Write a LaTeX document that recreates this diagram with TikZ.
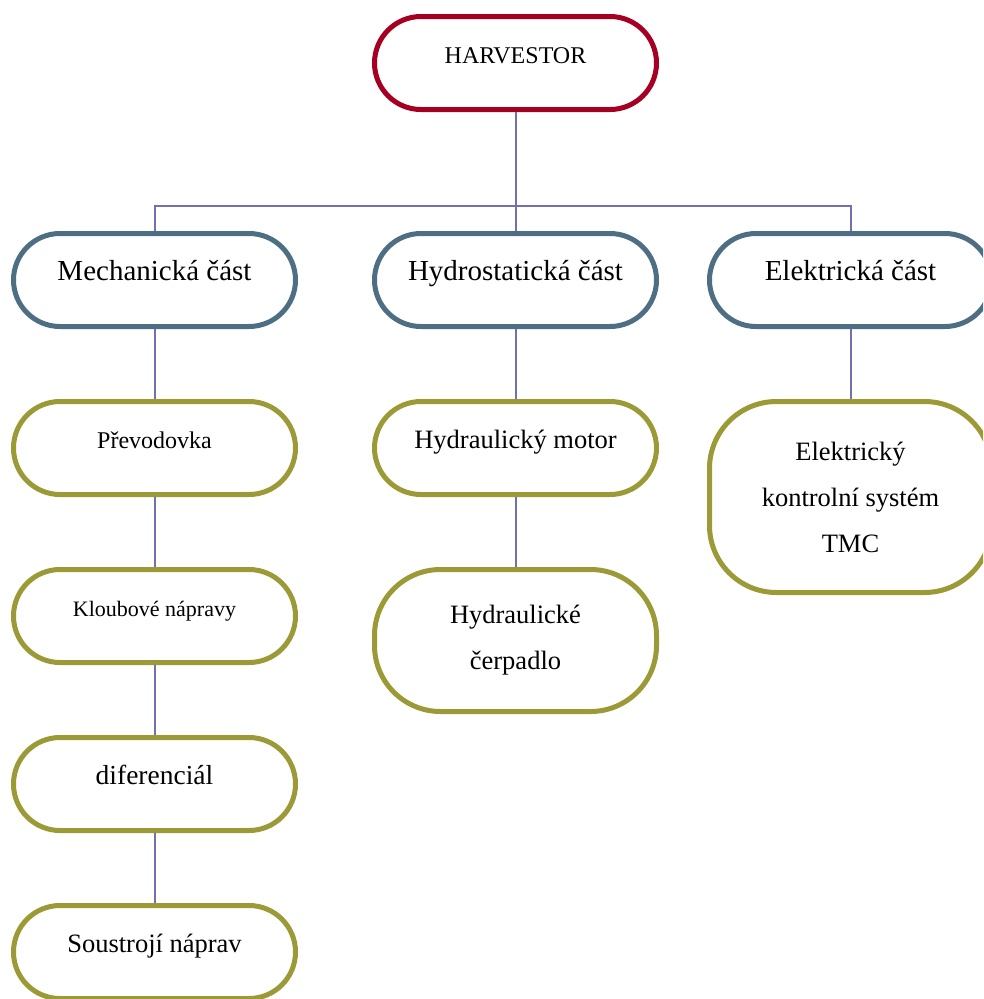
\documentclass[tikz,border=0pt]{standalone}
\usepackage{fontspec}
\setmainfont{Liberation Serif}
\usetikzlibrary{positioning}
\definecolor{harvred}{HTML}{A50021}
\definecolor{partblue}{HTML}{4E6E83}
\definecolor{itemolive}{HTML}{9B9A36}
\definecolor{linkviolet}{HTML}{7270AE}
\tikzset{
  pill/.style     = {draw, line width=5pt, fill=white, rounded corners=46.5pt,
                     minimum width=282pt, minimum height=93pt, inner sep=0pt, align=center},
  oneline/.style  = {text height=0pt, text depth=0pt},
  topbox/.style   = {pill, oneline, draw=harvred, font=\fontsize{24}{29}\selectfont},
  partbox/.style  = {pill, oneline, draw=partblue, font=\fontsize{29}{35}\selectfont},
  itembox/.style  = {pill, oneline, draw=itemolive, font=\fontsize{26.5}{32}\selectfont},
  tallitem/.style = {pill, draw=itemolive, font=\fontsize{26.5}{46}\selectfont},
  link/.style     = {draw=linkviolet, line width=2pt},
  node distance   = 70pt,
}

\begin{document}
\begin{tikzpicture}[x=1pt, y=-1pt]
  \useasboundingbox (0,0) rectangle (983,999);
  \clip (0,0) rectangle (983,999);
  % root and the three parts
  \node[topbox] (harv) at (515.5,63) {HARVESTOR};
  \node[partbox] (mech) at (154.5,280) {Mechanická část};
  \node[partbox] (hydro) at (515.5,280) {Hydrostatická část};
  \node[partbox] (elek) at (850.5,280) {Elektrická část};
  \coordinate (bus) at (515.5,206);
  \draw[link] (harv) -- (bus);
  \draw[link] (bus) -| (mech.north);
  \draw[link] (bus) -- (hydro);
  \draw[link] (bus) -| (elek.north);
  % mechanical chain
  \node[itembox, below=of mech, font=\fontsize{24}{29}\selectfont] (prev) {Převodovka};
  \node[itembox, below=of prev, font=\fontsize{22}{27}\selectfont] (klou) {Kloubové nápravy};
  \node[itembox, below=of klou, font=\fontsize{27.5}{33}\selectfont] (dif) {diferenciál};
  \node[itembox, below=of dif] (sous) {Soustrojí náprav};
  \draw[link] (mech) -- (prev);
  \draw[link] (prev) -- (klou);
  \draw[link] (klou) -- (dif);
  \draw[link] (dif) -- (sous);
  % hydrostatic chain
  \node[itembox, below=of hydro] (hmot) {Hydraulický motor};
  \node[tallitem, below=of hmot, minimum height=142pt, rounded corners=66pt] (hcer)
    {Hydraulické\\čerpadlo};
  \draw[link] (hydro) -- (hmot);
  \draw[link] (hmot) -- (hcer);
  % electrical part
  \node[tallitem, below=of elek, minimum height=191pt, rounded corners=67pt] (tmc)
    {Elektrický\\kontrolní systém\\TMC};
  \draw[link] (elek) -- (tmc);
\end{tikzpicture}
\end{document}
